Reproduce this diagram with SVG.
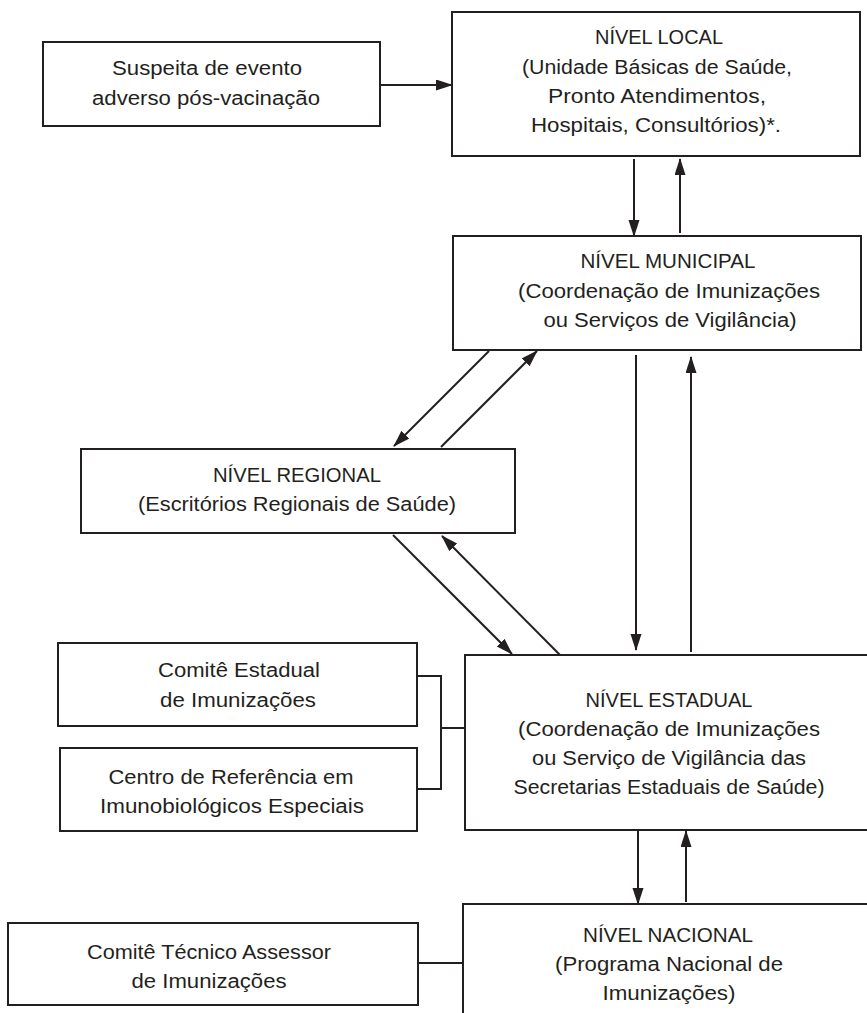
<svg xmlns="http://www.w3.org/2000/svg" width="867" height="1013" viewBox="0 0 867 1013">
<defs>
<marker id="ah" markerUnits="userSpaceOnUse" markerWidth="18" markerHeight="12" refX="16" refY="5.5" orient="auto">
<path d="M0,0 L17,5.5 L0,11 z" fill="#231f20"/>
</marker>
<style>
.box{fill:#fff;stroke:#231f20;stroke-width:2}
.ln{fill:none;stroke:#231f20;stroke-width:2}
.ar{fill:none;stroke:#231f20;stroke-width:2;marker-end:url(#ah)}
text{font-family:"Liberation Sans",Arial,sans-serif;font-size:20px;fill:#231f20;text-anchor:middle}
</style>
</defs>
<rect width="867" height="1013" fill="#fff"/>
<g id="suspeita">
<rect class="box" x="43" y="42" width="337" height="84"/>
<text x="207" y="75" textLength="190" lengthAdjust="spacingAndGlyphs">Suspeita de evento</text>
<text x="206" y="105" textLength="228" lengthAdjust="spacingAndGlyphs">adverso pós-vacinação</text>
</g>
<g id="local">
<rect class="box" x="452" y="12" width="408" height="144"/>
<text x="659" y="44" textLength="128" lengthAdjust="spacingAndGlyphs">NÍVEL LOCAL</text>
<text x="657" y="73.5" textLength="270" lengthAdjust="spacingAndGlyphs">(Unidade Básicas de Saúde,</text>
<text x="657" y="103" textLength="218" lengthAdjust="spacingAndGlyphs">Pronto Atendimentos,</text>
<text x="656" y="132" textLength="250" lengthAdjust="spacingAndGlyphs">Hospitais, Consultórios)*.</text>
</g>
<g id="municipal">
<rect class="box" x="453" y="236" width="408" height="114"/>
<text x="668" y="268" textLength="175" lengthAdjust="spacingAndGlyphs">NÍVEL MUNICIPAL</text>
<text x="669" y="297.5" textLength="302" lengthAdjust="spacingAndGlyphs">(Coordenação de Imunizações</text>
<text x="670" y="327" textLength="253" lengthAdjust="spacingAndGlyphs">ou Serviços de Vigilância)</text>
</g>
<g id="regional">
<rect class="box" x="81" y="449" width="434" height="84"/>
<text x="297" y="482" textLength="168" lengthAdjust="spacingAndGlyphs">NÍVEL REGIONAL</text>
<text x="297" y="511" textLength="318" lengthAdjust="spacingAndGlyphs">(Escritórios Regionais de Saúde)</text>
</g>
<g id="comite-estadual">
<rect class="box" x="58" y="643" width="359" height="83"/>
<text x="239" y="677" textLength="162" lengthAdjust="spacingAndGlyphs">Comitê Estadual</text>
<text x="238" y="707" textLength="156" lengthAdjust="spacingAndGlyphs">de Imunizações</text>
</g>
<g id="centro-referencia">
<rect class="box" x="60" y="748" width="357" height="83"/>
<text x="231" y="784" textLength="245" lengthAdjust="spacingAndGlyphs">Centro de Referência em</text>
<text x="232" y="813" textLength="264" lengthAdjust="spacingAndGlyphs">Imunobiológicos Especiais</text>
</g>
<g id="estadual">
<rect class="box" x="465" y="655" width="420" height="175"/>
<text x="669" y="707" textLength="167" lengthAdjust="spacingAndGlyphs">NÍVEL ESTADUAL</text>
<text x="669" y="736" textLength="302" lengthAdjust="spacingAndGlyphs">(Coordenação de Imunizações</text>
<text x="669" y="765" textLength="274" lengthAdjust="spacingAndGlyphs">ou Serviço de Vigilância das</text>
<text x="669" y="794" textLength="311" lengthAdjust="spacingAndGlyphs">Secretarias Estaduais de Saúde)</text>
</g>
<g id="comite-tecnico">
<rect class="box" x="8" y="923" width="410" height="82"/>
<text x="209" y="959" textLength="244" lengthAdjust="spacingAndGlyphs">Comitê Técnico Assessor</text>
<text x="209" y="988" textLength="155" lengthAdjust="spacingAndGlyphs">de Imunizações</text>
</g>
<g id="nacional">
<rect class="box" x="463" y="904" width="420" height="130"/>
<text x="668" y="942" textLength="170" lengthAdjust="spacingAndGlyphs">NÍVEL NACIONAL</text>
<text x="669" y="971" textLength="228" lengthAdjust="spacingAndGlyphs">(Programa Nacional de</text>
<text x="669" y="1000" textLength="133" lengthAdjust="spacingAndGlyphs">Imunizações)</text>
</g>
<g id="connectors">
<line class="ar" x1="380" y1="85" x2="452" y2="85"/>
<line class="ar" x1="634" y1="159" x2="634" y2="236"/>
<line class="ar" x1="680" y1="233" x2="680" y2="159"/>
<line class="ar" x1="489" y1="351" x2="394" y2="446"/>
<line class="ar" x1="441" y1="447" x2="537" y2="351"/>
<line class="ar" x1="636" y1="355" x2="636" y2="650"/>
<line class="ar" x1="691" y1="652" x2="691" y2="357"/>
<line class="ar" x1="393" y1="535" x2="512" y2="654"/>
<line class="ar" x1="560" y1="655" x2="442" y2="536"/>
<line class="ar" x1="638" y1="830" x2="638" y2="904"/>
<line class="ar" x1="686" y1="902" x2="686" y2="831"/>
<polyline class="ln" points="417,676 441,676 441,789 417,789"/>
<line class="ln" x1="441" y1="728" x2="465" y2="728"/>
<line class="ln" x1="418" y1="963" x2="463" y2="963"/>
</g>
</svg>
